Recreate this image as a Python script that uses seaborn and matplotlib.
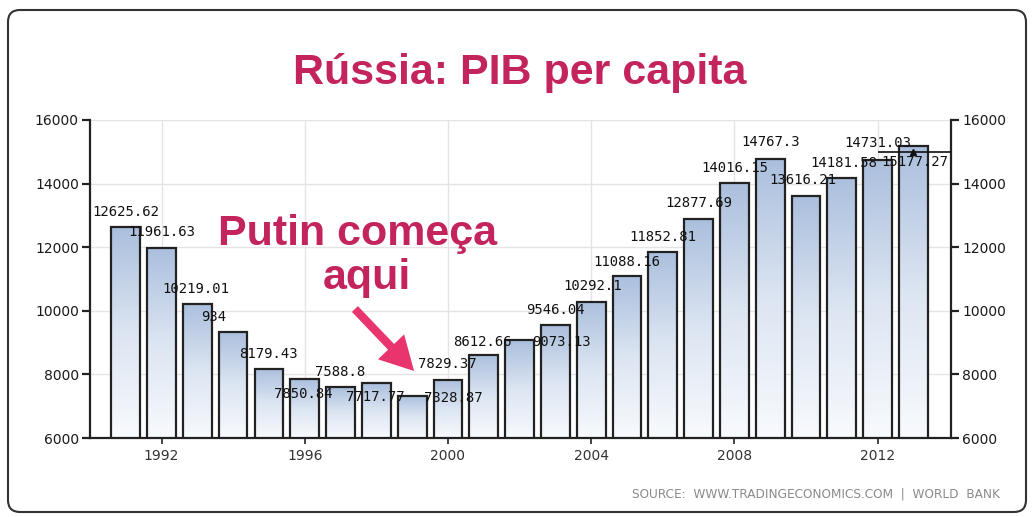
import numpy as np
import pandas as pd
import matplotlib
matplotlib.use('Agg')
import matplotlib.pyplot as plt
from matplotlib.colors import LinearSegmentedColormap
from matplotlib.patches import FancyBboxPatch, FancyArrowPatch
from matplotlib.transforms import IdentityTransform
import seaborn as sns

# GDP per capita values (1991 - 2013)
years = [str(y) for y in range(1991, 2014)]
gdp = [12625.62, 11961.63, 10219.01, 9340.0, 8179.43, 7850.84, 7588.8, 7717.77,
       7328.87, 7829.37, 8612.66, 9073.13, 9546.04, 10292.1, 11088.16, 11852.81,
       12877.69, 14016.15, 14767.3, 13616.21, 14181.58, 14731.03, 15177.27]
value_labels = ['12625.62', '11961.63', '10219.01', '934', '8179.43', '7850.84',
                '7588.8', '7717.77', '7328.87', '7829.37', '8612.66', '9073.13',
                '9546.04', '10292.1', '11088.16', '11852.81', '12877.69', '14016.15',
                '14767.3', '13616.21', '14181.58', '14731.03', '15177.27']
shown_years = ['1992', '1996', '2000', '2004', '2008', '2012']
y_ticks = [6000, 8000, 10000, 12000, 14000, 16000]
last_value = 14980  # last-value marker line at the right edge

# label offsets in pixels (dx, dy) relative to the top of each bar
label_offsets = [(0, 15), (0, 16), (-2, 15), (-19, 15), (-1, 15), (-1, -15),
                 (0, 15), (-1, -14), (41, -2), (-1, 16), (-1, 13), (42, -2),
                 (0, 15), (1, 16), (0, 14), (0, 15), (0, 16), (0, 15), (0, 17),
                 (-3, 16), (2, 15), (0, 17), (1, -16)]

df = pd.DataFrame({'year': years, 'gdp': gdp})

sns.set_style('white')
plt.rcParams['font.family'] = ['DejaVu Sans']

fig = plt.figure(figsize=(10.33, 5.17), dpi=100)
ax = fig.add_axes([0.0871, 0.1528, 0.8335, 0.6151])

sns.barplot(data=df, x='year', y='gdp', color='#b7c9e4', edgecolor='#222222',
            linewidth=1.6, width=0.8, ax=ax, zorder=3)

ymin, ymax = 6000, 16000
xlim = (-1.0, 23.05)

# vertical blue-to-white gradient inside each bar
cmap = LinearSegmentedColormap.from_list('bar', ['#f8fafd', '#dce5f2', '#abbfdd'])
grad = np.linspace(0, 1, 256).reshape(-1, 1)
for p in ax.patches:
    x0 = p.get_x()
    w = p.get_width()
    top = p.get_y() + p.get_height()
    im = ax.imshow(grad, extent=[x0, x0 + w, ymin, top], origin='lower',
                   cmap=cmap, aspect='auto', zorder=2.5, interpolation='bilinear')
    im.set_clip_path(p)
    p.set_facecolor('none')

ax.set_xlim(*xlim)
ax.set_ylim(ymin, ymax)

# value labels
for i, (v, lab) in enumerate(zip(gdp, value_labels)):
    dx, dy = label_offsets[i]
    ax.annotate(lab, (i, v), xytext=(dx, dy), textcoords='offset pixels',
                ha='center', va='center', fontsize=10, color='#111111',
                family='DejaVu Sans Mono', zorder=5)

# last value marker
ax.hlines(last_value, years.index('2012'), xlim[1], color='#111111', lw=1.2, zorder=6)
ax.plot(years.index('2013'), last_value, marker='^', color='#111111', ms=5, zorder=6)

# axes styling
ax.set_xticks([years.index(y) for y in shown_years])
ax.set_xticklabels(shown_years)
ax.set_yticks(y_ticks)
ax.set_xlabel('')
ax.set_ylabel('')
ax.grid(True, color='#e4e4e4', lw=1, zorder=0)
ax.set_axisbelow(True)
for s in ['left', 'right', 'bottom']:
    ax.spines[s].set_visible(True)
    ax.spines[s].set_color('#222222')
    ax.spines[s].set_linewidth(1.6)
ax.spines['top'].set_visible(False)
ax.tick_params(axis='y', left=True, right=True, labelright=True, length=6,
               width=1.6, color='#222222', labelsize=10, labelcolor='#1a1a1a', pad=2)
ax.tick_params(axis='x', bottom=True, length=4, width=1.2, color='#222222',
               labelsize=10, labelcolor='#333333', pad=4)

# title and annotation
fig.text(0.503, 0.8375, 'Rússia: PIB per capita', ha='center', va='baseline',
         fontsize=31, fontweight='bold', color='#c3245d', family='Liberation Sans')
fig.text(0.346, 0.526, 'Putin começa', ha='center', va='baseline',
         fontsize=31, fontweight='bold', color='#c3245d', family='Liberation Sans')
fig.text(0.355, 0.441, 'aqui', ha='center', va='baseline',
         fontsize=31, fontweight='bold', color='#c3245d', family='Liberation Sans')

arrow = FancyArrowPatch((353, 517 - 307), (416, 517 - 373),
                        transform=IdentityTransform(),
                        arrowstyle='simple,head_width=2.6,head_length=2.4,tail_width=0.6',
                        mutation_scale=10, color='#e8356e', lw=0)
fig.patches.append(arrow)

fig.text(0.968, 0.038, 'SOURCE:  WWW.TRADINGECONOMICS.COM  |  WORLD  BANK', ha='right',
         va='baseline', fontsize=8.7, color='#8a8a8a')

frame = FancyBboxPatch((8, 5), 1018, 502, boxstyle='round,pad=0,rounding_size=12',
                       transform=IdentityTransform(), fill=False,
                       edgecolor='#333333', lw=1.5)
fig.patches.append(frame)

fig.savefig('out.png', dpi=100)
plt.close(fig)
